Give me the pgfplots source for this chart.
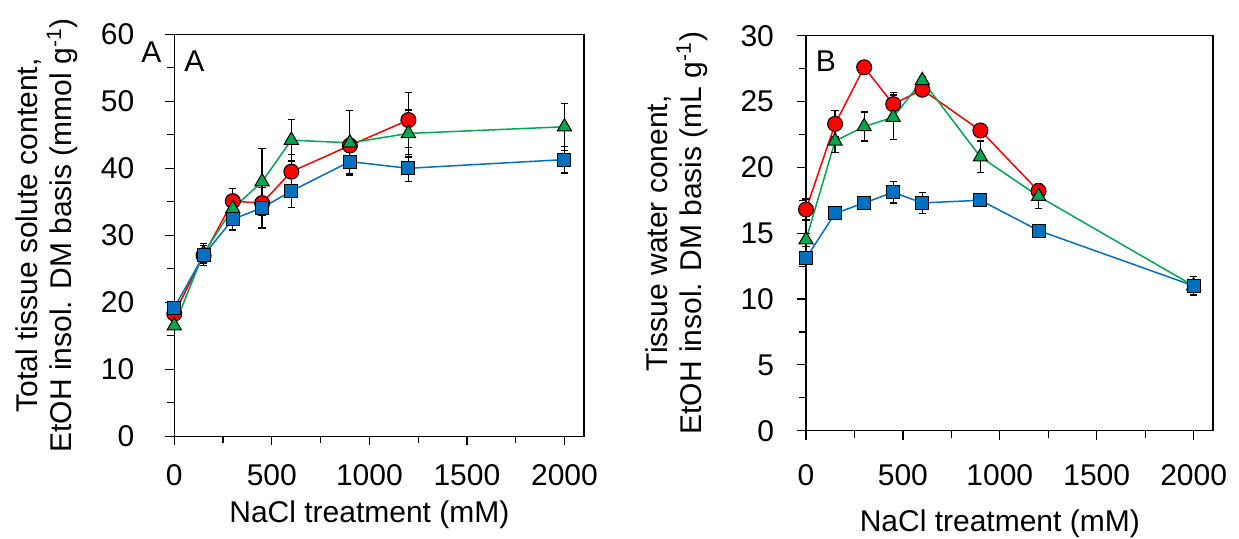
\documentclass[border=0pt]{standalone}
\usepackage{fontspec}
\setmainfont{Liberation Sans}
\usepackage{pgfplots}
\pgfplotsset{compat=1.18}
\definecolor{ptred}{RGB}{255,0,0}
\definecolor{ptgreen}{RGB}{0,168,80}
\definecolor{ptblue}{RGB}{0,112,192}

\pgfplotsset{
  panel/.style={
    scale only axis, clip=false,
    xmin=0, xmax=2100,
    xtick={0,500,...,2000}, minor x tick num=1,
    minor y tick num=1,
    tick pos=left, tick align=outside,
    major tick length=4.5pt, minor tick length=3.5pt,
    every tick/.style={black, line width=0.6pt},
    axis line style={line width=0.7pt},
    /pgf/number format/assume math mode=true,
    /pgf/number format/1000 sep={},
    ticklabel style={font=\fontsize{15}{18}\selectfont},
    label style={font=\fontsize{15}{17}\selectfont},
    ylabel style={align=center},
  },
  redser/.style={color=ptred, line width=0.75pt, mark=*, mark size=3.75pt,
    mark options={fill=ptred, draw=black, line width=0.5pt}},
  greenser/.style={color=ptgreen, line width=0.75pt, mark=triangle*, mark size=4.1pt,
    mark options={fill=ptgreen, draw=black, line width=0.5pt}},
  blueser/.style={color=ptblue, line width=0.75pt, mark=square*, mark size=3.25pt,
    mark options={fill=ptblue, draw=black, line width=0.5pt}},
  ebars/.style={error bars/.cd, y dir=both, y explicit,
    error bar style={black, line width=0.6pt},
    error mark options={rotate=90, black, mark size=1.8pt, line width=0.6pt}},
}

\pgfplotstableread{
x y e
0 18.3 0.8
150 27.0 1.5
300 35.1 1.9
450 34.8 1.0
600 39.5 2.5
900 43.4 1.0
1200 47.2 4.1
}\redA
\pgfplotstableread{
x y e
0 16.5 0.5
150 27.3 1.5
300 34.0 1.0
450 38.0 5.0
600 44.2 3.1
900 43.8 4.8
1200 45.2 3.5
2000 46.2 3.5
}\greenA
\pgfplotstableread{
x y e
0 19.2 0.8
150 27.0 1.0
300 32.4 1.6
450 34.1 3.0
600 36.6 2.5
900 41.0 1.8
1200 40.0 2.0
2000 41.3 2.0
}\blueA
\pgfplotstableread{
x y e
0 16.8 0.8
150 23.3 1.0
300 27.6 0.3
450 24.8 0.9
600 25.9 0.3
900 22.8 0.4
1200 18.2 0.6
}\redB
\pgfplotstableread{
x y e
0 14.5 0.5
150 22.0 0.9
300 23.1 1.1
450 23.8 1.7
600 26.6 0.3
900 20.8 1.2
1200 17.8 0.9
2000 11.0 0.5
}\greenB
\pgfplotstableread{
x y e
0 13.1 0.4
150 16.5 0.3
300 17.3 0.3
450 18.1 0.8
600 17.3 0.8
900 17.5 0.3
1200 15.2 0.4
2000 11.0 0.7
}\blueB

\begin{document}
\begin{tikzpicture}
\useasboundingbox (0,0) rectangle (619.5pt,269.5pt);

\begin{axis}[panel,
  at={(87.15pt,51.35pt)}, anchor=south west,
  width=204.85pt, height=201pt,
  ymin=0, ymax=60, ytick={0,10,...,60},
  yticklabel style={anchor=east, xshift=-12pt},
  xticklabel style={anchor=base, yshift=-20pt},
  xlabel={NaCl treatment (mM)},
  xlabel style={at={(axis cs:1000,0)}, anchor=base, yshift=-43.35pt},
  ylabel={Total tissue solute content,\\EtOH insol. DM basis (mmol g\textsuperscript{-1})},
  ylabel style={at={(axis description cs:0,0.5)}, anchor=center, yshift=63.75pt},
]
\addplot[redser, ebars] table[x=x, y=y, y error=e] {\redA};
\addplot[greenser, ebars] table[x=x, y=y, y error=e] {\greenA};
\addplot[blueser, ebars] table[x=x, y=y, y error=e] {\blueA};
\node[font=\fontsize{15}{17}\selectfont, inner sep=0pt] at (rel axis cs:0.049,0.934) {A};
\node[font=\fontsize{15}{17}\selectfont, inner sep=0pt] at (rel axis cs:-0.056,0.955) {A};
\end{axis}

\begin{axis}[panel,
  at={(403pt,54.15pt)}, anchor=south west,
  width=203.5pt, height=197.5pt,
  ymin=0, ymax=30, ytick={0,5,...,30},
  yticklabel style={anchor=east, xshift=-8pt},
  xticklabel style={anchor=base, yshift=-23pt},
  xlabel={NaCl treatment (mM)},
  xlabel style={at={(axis cs:1000,0)}, anchor=base, yshift=-50.5pt},
  ylabel={Tissue water conent,\\EtOH insol. DM basis (mL g\textsuperscript{-1})},
  ylabel style={at={(axis description cs:0,0.5)}, anchor=center, yshift=64.75pt},
]
\addplot[redser, ebars] table[x=x, y=y, y error=e] {\redB};
\addplot[greenser, ebars] table[x=x, y=y, y error=e] {\greenB};
\addplot[blueser, ebars] table[x=x, y=y, y error=e] {\blueB};
\node[font=\fontsize{15}{17}\selectfont, inner sep=0pt] at (rel axis cs:0.049,0.936) {B};
\end{axis}
\end{tikzpicture}
\end{document}
